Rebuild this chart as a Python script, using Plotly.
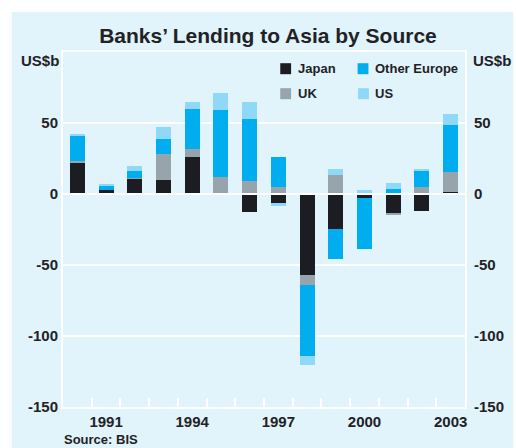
import plotly.graph_objects as go

years = [1990, 1991, 1992, 1993, 1994, 1995, 1996, 1997, 1998, 1999, 2000, 2001, 2002, 2003]
japan = [22.1, 3.0, 10.8, 10.1, 26.3, 0.9, -12.4, -6.1, -57.1, -24.8, -3.0, -14.0, -12.2, 1.6]
uk = [1.4, -0.6, 0.7, 18.3, 5.6, 11.3, 9.4, 5.2, -7.1, 13.6, 0.7, -0.7, 5.2, 14.1]
other_europe = [17.6, 2.8, 4.9, 10.5, 28.2, 47.2, 43.7, 21.1, -49.9, -21.1, -35.9, 3.3, 11.2, 33.1]
us = [1.4, 1.4, 3.5, 8.5, 4.9, 12.0, 11.9, -2.1, -6.3, 4.2, 1.9, 4.2, 0.7, 7.8]

series_names = ["Japan", "UK", "Other Europe", "US"]
series_values = [japan, uk, other_europe, us]
series_colors = ["#1c1d22", "#98a4ac", "#00aeef", "#8fd8f8"]

y_ticks = [-150, -100, -50, 0, 50]
x_tick_years = [1991, 1994, 1997, 2000, 2003]

BG = "#e1f3fb"
TXT = "#222226"
FONT = "Liberation Sans"

W, H = 516, 448
ml, mr, mt, mb = 63, 516 - 471, 52, 448 - 407
pw, ph = W - ml - mr, H - mt - mb


def px(x):
    return (x - ml) / pw


def py(y):
    return (H - mb - y) / ph


fig = go.Figure()
for name, vals, col in zip(series_names, series_values, series_colors):
    fig.add_trace(go.Bar(x=years, y=vals, name=name, marker=dict(color=col, line=dict(width=0)),
                         width=0.52, showlegend=False))
# invisible trace so that the right-hand axis is drawn
fig.add_trace(go.Scatter(x=years, y=japan, yaxis="y2", mode="none", showlegend=False, hoverinfo="skip"))

shapes = [
    dict(type="rect", xref="paper", yref="paper", x0=px(11), x1=px(520), y0=py(452), y1=py(12),
         fillcolor=BG, line=dict(width=0), layer="below"),
    dict(type="line", xref="paper", yref="y", x0=0, x1=1, y0=0, y1=0,
         line=dict(color="white", width=2), layer="above"),
]

annotations = []
legend_layout = [("Japan", 283.5, 68.7), ("Other Europe", 362, 68.7), ("UK", 283.5, 93.7), ("US", 362.5, 93.7)]
for name, lx, ly in legend_layout:
    col = series_colors[series_names.index(name)]
    shapes.append(dict(type="rect", xref="paper", yref="paper", x0=px(lx), x1=px(lx + 11),
                       y0=py(ly + 5.5), y1=py(ly - 5.5), fillcolor=col, line=dict(width=0), layer="above"))
    annotations.append(dict(text=name, xref="paper", yref="paper", x=px(lx + 15.5), y=py(ly),
                            xanchor="left", yanchor="middle", showarrow=False,
                            font=dict(family=FONT, size=13, color=TXT, weight="bold")))

annotations += [
    dict(text="US$b", xref="paper", yref="paper", x=px(18), y=py(61), xanchor="left", yanchor="middle",
         showarrow=False, font=dict(family=FONT, size=15, color=TXT, weight="bold")),
    dict(text="US$b", xref="paper", yref="paper", x=px(477), y=py(61), xanchor="left", yanchor="middle",
         showarrow=False, font=dict(family=FONT, size=15, color=TXT, weight="bold")),
    dict(text="Source: BIS", xref="paper", yref="paper", x=px(61.5), y=py(439.5), xanchor="left",
         yanchor="middle", showarrow=False, font=dict(family=FONT, size=13, color=TXT, weight="bold")),
]

fig.update_layout(
    width=W, height=H, autosize=False,
    margin=dict(l=ml, r=mr, t=mt, b=mb, pad=0),
    paper_bgcolor="white", plot_bgcolor=BG,
    barmode="relative", bargap=0,
    title=dict(text="Banks’ Lending to Asia by Source", x=268 / W, xanchor="center",
               y=1 - 35.5 / H, yanchor="middle", yref="container",
               font=dict(family=FONT, size=21, color=TXT, weight="bold")),
    font=dict(family=FONT, color=TXT),
    shapes=shapes, annotations=annotations,
    xaxis=dict(range=[1989.5, 2003.5], tickmode="array", tickvals=x_tick_years,
               ticktext=[str(y) for y in x_tick_years], ticks="", ticklabelstandoff=0,
               tickfont=dict(family=FONT, size=15, color=TXT, weight="bold"),
               showgrid=False, zeroline=False, showline=True, linecolor="white", linewidth=2, mirror=True,
               minor=dict(tickmode="array", tickvals=[y + 0.5 for y in years[:-1]], ticks="inside",
                          ticklen=9, tickwidth=2, tickcolor="white", showgrid=False)),
    yaxis=dict(range=[-150, 100], tickmode="array", tickvals=y_ticks, ticktext=[str(v) for v in y_ticks],
               ticks="", ticklabelstandoff=0,
               tickfont=dict(family=FONT, size=15, color=TXT, weight="bold"),
               showgrid=True, gridcolor="white", gridwidth=2, zeroline=False,
               showline=True, linecolor="white", linewidth=2),
    yaxis2=dict(range=[-150, 100], overlaying="y", side="right", tickmode="array", tickvals=y_ticks,
                ticktext=[str(v) for v in y_ticks], ticks="", ticklabelstandoff=4,
                tickfont=dict(family=FONT, size=15, color=TXT, weight="bold"),
                showgrid=False, zeroline=False, showline=True, linecolor="white", linewidth=2),
)

fig.write_html(
    "out.html",
    config={"responsive": False, "displayModeBar": False},
    post_script="document.body.style.margin='0px';document.documentElement.style.overflow='hidden';",
)
